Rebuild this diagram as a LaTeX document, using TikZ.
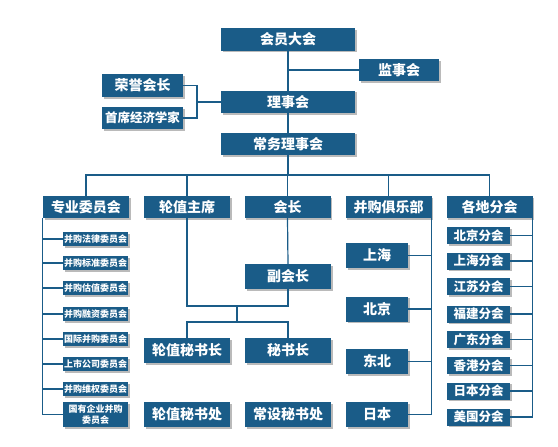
\documentclass[tikz,border=0pt]{standalone}
\usepackage{fontspec}
\setmainfont{Noto Sans CJK SC}
\usepackage{xcolor}
\usetikzlibrary{positioning,shadows}

\definecolor{orgblue}{HTML}{1A5C88}

\begin{document}
\begin{tikzpicture}[
    x=1pt, y=-1pt,
    box/.style={draw=none, fill=orgblue, text=white, inner sep=0pt, align=center,
      font=\bfseries\fontsize{14}{16}\selectfont,
      drop shadow={shadow xshift=1.6pt, shadow yshift=-1.6pt, fill=black!45, opacity=0.6}},
    wide/.style={box, minimum width=134pt, minimum height=22.5pt},
    head/.style={box, minimum width=86pt, minimum height=22pt},
    unit/.style={box, minimum width=86pt, minimum height=25pt},
    club/.style={box, minimum width=62pt, minimum height=25pt},
    branch/.style={box, minimum width=63pt, minimum height=17pt, font=\bfseries\fontsize{12.5}{14}\selectfont},
    cmte/.style={box, minimum width=65pt, minimum height=14pt, font=\bfseries\fontsize{9}{10.5}\selectfont},
    link/.style={draw=orgblue, line width=1.2pt}
  ]
    \useasboundingbox (0,0) rectangle (558,447);

    % top
    \node[wide] (hy) at (288,39.5) {会员大会};
    \node[box, minimum width=80pt, minimum height=22pt] (js) at (399,70) {监事会};
    \node[wide] (ls) at (288,102) {理事会};
    \node[wide] (cw) at (288,144) {常务理事会};
    \node[box, minimum width=81pt, minimum height=23pt] (ry) at (142.5,85.5) {荣誉会长};
    \node[box, minimum width=81pt, minimum height=22pt,
      font=\bfseries\fontsize{12.5}{14}\selectfont] (sx) at (142.5,118) {首席经济学家};

    % second row
    \node[head] (zy) at (86,207) {专业委员会};
    \node[head] (lz) at (187,207) {轮值主席};
    \node[head] (hz) at (287.5,207) {会长};
    \node[head] (bg) at (388.5,207) {并购俱乐部};
    \node[head] (gd) at (489.5,207) {各地分会};

    % committees
    \node[cmte] (wy1) at (95.5,239) {并购法律委员会};
    \node[cmte] (wy2) at (95.5,263) {并购标准委员会};
    \node[cmte] (wy3) at (95.5,288) {并购估值委员会};
    \node[cmte] (wy4) at (95.5,314) {并购融资委员会};
    \node[cmte] (wy5) at (95.5,339) {国际并购委员会};
    \node[cmte] (wy6) at (95.5,364) {上市公司委员会};
    \node[cmte] (wy7) at (95.5,389) {并购维权委员会};
    \node[cmte, minimum height=25pt] (wy8) at (95.5,414.5) {国有企业并购\\委员会};

    % chair and secretariat
    \node[unit] (fhz) at (288,276.5) {副会长};
    \node[unit] (lms) at (187,350.5) {轮值秘书长};
    \node[unit] (ms) at (288,350.5) {秘书长};
    \node[unit] (lmc) at (187,414.5) {轮值秘书处};
    \node[unit] (cmc) at (288,414.5) {常设秘书处};

    % club
    \node[club] (sh) at (377,255.5) {上海};
    \node[club] (bj) at (377,309) {北京};
    \node[club] (db) at (377,361.5) {东北};
    \node[club] (rb) at (377,414.5) {日本};

    % branches
    \node[branch] (fh1) at (478.5,235.5) {北京分会};
    \node[branch] (fh2) at (478.5,261) {上海分会};
    \node[branch] (fh3) at (478.5,286.5) {江苏分会};
    \node[branch] (fh4) at (478.5,314) {福建分会};
    \node[branch] (fh5) at (478.5,339.5) {广东分会};
    \node[branch] (fh6) at (478.5,365.5) {香港分会};
    \node[branch] (fh7) at (478.5,391) {日本分会};
    \node[branch] (fh8) at (478.5,417) {美国分会};

    \coordinate (brk) at (197,102);
    \coordinate (bus) at (288,175);
    \coordinate (mrg) at (237,306);
    \coordinate (spl) at (237,322);

    \draw[link] (hy.south) -- (ls.north);
    \draw[link] (ls.south) -- (cw.north);
    \draw[link] (hy.south |- js.west) -- (js.west);
    \draw[link] (ry.east) -| (brk) |- (sx.east);
    \draw[link] (brk) -- (ls.west);
    \draw[link] (cw.south) -- (bus);
    \draw[link] (zy.north) |- (bus) -| (gd.north);
    \draw[link] (lz.north) -- (lz.north |- bus);
    \draw[link] (hz.north) -- (hz.north |- bus);
    \draw[link] (bg.north) -- (bg.north |- bus);

    \draw[link] (zy.south west) -- (zy.south west |- wy8.west);
    \draw[link] (zy.south west |- wy1.west) -- (wy1.west);
    \draw[link] (zy.south west |- wy2.west) -- (wy2.west);
    \draw[link] (zy.south west |- wy3.west) -- (wy3.west);
    \draw[link] (zy.south west |- wy4.west) -- (wy4.west);
    \draw[link] (zy.south west |- wy5.west) -- (wy5.west);
    \draw[link] (zy.south west |- wy6.west) -- (wy6.west);
    \draw[link] (zy.south west |- wy7.west) -- (wy7.west);
    \draw[link] (zy.south west |- wy8.west) -- (wy8.west);

    \draw[link] (hz.south) -- (fhz.north);
    \draw[link] (lz.south) |- (mrg) -| (fhz.south);
    \draw[link] (mrg) -- (spl);
    \draw[link] (lms.north) |- (spl) -| (ms.north);

    \draw[link] (bg.south east) -- (bg.south east |- rb.east);
    \draw[link] (sh.east) -- (bg.south east |- sh.east);
    \draw[link] (bj.east) -- (bg.south east |- bj.east);
    \draw[link] (db.east) -- (bg.south east |- db.east);
    \draw[link] (rb.east) -- (bg.south east |- rb.east);

    \draw[link] (gd.south east) -- (gd.south east |- fh8.east);
    \draw[link] (fh1.east) -- (gd.south east |- fh1.east);
    \draw[link] (fh2.east) -- (gd.south east |- fh2.east);
    \draw[link] (fh3.east) -- (gd.south east |- fh3.east);
    \draw[link] (fh4.east) -- (gd.south east |- fh4.east);
    \draw[link] (fh5.east) -- (gd.south east |- fh5.east);
    \draw[link] (fh6.east) -- (gd.south east |- fh6.east);
    \draw[link] (fh7.east) -- (gd.south east |- fh7.east);
    \draw[link] (fh8.east) -- (gd.south east |- fh8.east);
  \end{tikzpicture}
\end{document}
